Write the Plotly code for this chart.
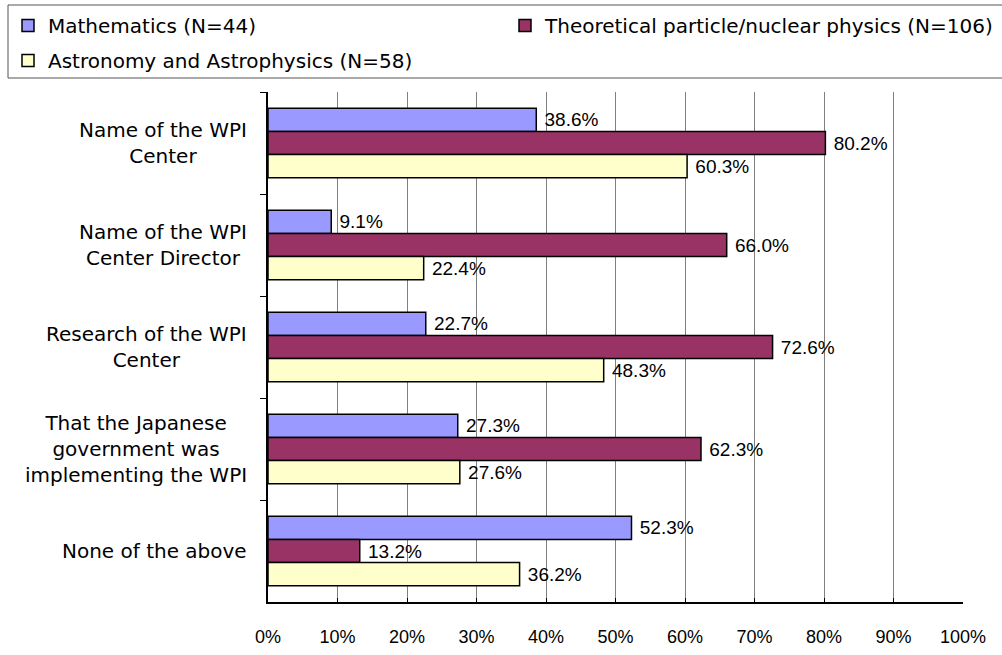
import plotly.graph_objects as go

categories = [
    "Name of the WPI<br>Center",
    "Name of the WPI<br>Center Director",
    "Research of the WPI<br>Center",
    "That the Japanese<br>government was<br>implementing the WPI",
    "None of the above",
]
series_names = [
    "Mathematics (N=44)",
    "Theoretical particle/nuclear physics (N=106)",
    "Astronomy and Astrophysics (N=58)",
]
math_vals = [38.6, 9.1, 22.7, 27.3, 52.3]
theo_vals = [80.2, 66.0, 72.6, 62.3, 13.2]
astro_vals = [60.3, 22.4, 48.3, 27.6, 36.2]
colors = ["#9999FF", "#993366", "#FFFFCC"]
x_ticks = list(range(0, 101, 10))

LABEL_FONT = "DejaVu Sans"
NUM_FONT = "Liberation Sans"

L, R, T, B = 268, 39, 92, 53
W, H = 1002, 655
pw = W - L - R
ph = H - T - B


def px_x(p):
    return (p - L) / pw


def px_y(p):
    return (H - B - p) / ph


fig = go.Figure()
legend_ids = ["legend", "legend3", "legend2"]
for name, vals, col, lg in zip(series_names, [math_vals, theo_vals, astro_vals], colors, legend_ids):
    fig.add_trace(go.Bar(
        y=categories, x=vals, name=name, orientation="h", legend=lg,
        marker=dict(color=col, line=dict(color="black", width=1.5)),
        text=[f" {v:.1f}%" for v in vals], textposition="outside",
        textfont=dict(family=NUM_FONT, size=19, color="black"),
        cliponaxis=False,
    ))

for c in categories:
    fig.add_annotation(
        x=px_x(249), xref="paper", y=c, yref="y",
        text=c, showarrow=False, xanchor="right", align="center",
        font=dict(family=LABEL_FONT, size=20, color="black"),
    )

# legend frame
fig.add_shape(type="rect", xref="paper", yref="paper",
              x0=px_x(8), x1=px_x(1012), y0=px_y(78), y1=px_y(5),
              line=dict(color="#555555", width=1), fillcolor="white", layer="below")

leg_common = dict(
    orientation="h", xanchor="left", yanchor="top",
    borderwidth=0, bgcolor="rgba(0,0,0,0)",
    font=dict(family=LABEL_FONT, size=20, color="black"),
    traceorder="normal", itemclick=False, itemdoubleclick=False,
)

fig.update_layout(
    width=W, height=H,
    margin=dict(l=L, r=R, t=T, b=B, autoexpand=False),
    paper_bgcolor="white", plot_bgcolor="white",
    barmode="group", bargap=0.32, bargroupgap=0,
    showlegend=True,
    legend=dict(x=px_x(8), y=px_y(6), **leg_common),
    legend3=dict(x=px_x(505), y=px_y(6), **leg_common),
    legend2=dict(x=px_x(8), y=px_y(41), **leg_common),
    xaxis=dict(
        range=[0, 100], tickvals=x_ticks, ticktext=[f"{t}%" for t in x_ticks],
        showgrid=True, gridcolor="#808080", gridwidth=1,
        showline=True, linecolor="black", linewidth=1.5,
        ticks="inside", ticklen=4, tickcolor="black",
        tickfont=dict(family=NUM_FONT, size=18, color="black"),
        ticklabelstandoff=18, zeroline=False, fixedrange=True,
    ),
    yaxis=dict(
        autorange="reversed", showticklabels=False,
        showline=True, linecolor="black", linewidth=1.5,
        ticks="outside", ticklen=6, tickcolor="black", tickson="boundaries",
        showgrid=False, fixedrange=True,
    ),
)

fig.write_html("out.html", config={"displayModeBar": False},
               post_script="document.body.style.margin='0px';")
